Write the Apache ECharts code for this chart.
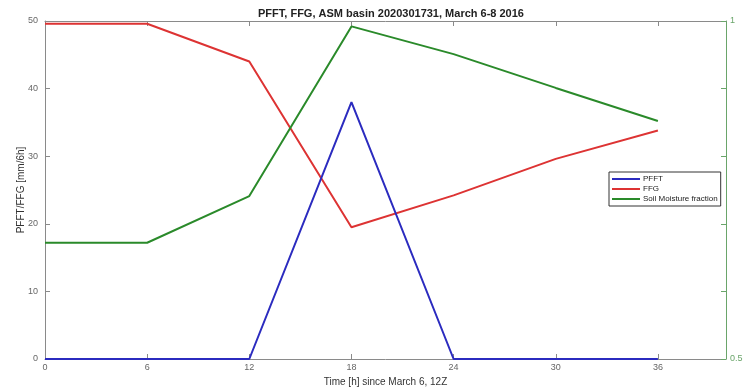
<!DOCTYPE html>
<html>
<head>
<meta charset="utf-8">
<script src="https://cdn.jsdelivr.net/npm/echarts@6/dist/echarts.min.js"></script>
<style>
  html, body { margin: 0; padding: 0; background: #fff; }
  #chart { width: 745px; height: 388px; }
</style>
</head>
<body>
<div id="chart"></div>
<script>
// hours since March 6, 12Z
const hours = [0, 6, 12, 18, 24, 30, 36];
const pfft = [0, 0, 0, 38, 0, 0, 0];
const ffg = [49.6, 49.6, 44, 19.5, 24.2, 29.6, 33.8];
const soilMoisture = [0.672, 0.672, 0.741, 0.992, 0.951, 0.901, 0.852];
const xTicks = [0, 6, 12, 18, 24, 30, 36];
const rightTicks = [0.5, 0.6, 0.7, 0.8, 0.9, 1];
const rightLabels = [0.5, 1];

function pairs(ys) {
    return hours.map((h, i) => [h, ys[i]]);
}

const chart = echarts.init(document.getElementById('chart'));
const grey = '#8a8a8a';
const green = '#2a8a2a';
const lightGreen = '#6aa56a';

const option = {
    animation: false,
    title: {
        text: 'PFFT, FFG, ASM basin 2020301731, March 6-8 2016',
        left: 386,
        textAlign: 'center',
        top: 3,
        textStyle: { fontSize: 11, fontWeight: 'bold', color: '#222', fontFamily: 'Liberation Sans' }
    },
    legend: {
        orient: 'vertical',
        left: 609,
        top: 172,
        icon: 'rect',
        itemWidth: 28,
        itemHeight: 2,
        itemGap: 2,
        padding: [3, 3, 3, 3],
        borderColor: '#333',
        borderWidth: 1,
        backgroundColor: '#fff',
        textStyle: { fontSize: 8, color: '#222', fontFamily: 'Liberation Sans', padding: [0, 0, 0, -2] },
        data: ['PFFT', 'FFG', 'Soil Moisture fraction']
    },
    grid: { left: 45, right: 19, top: 21, bottom: 29, outerBoundsMode: 'none', containLabel: false },
    xAxis: [{
        type: 'value',
        min: 0,
        max: 40,
        interval: 6,
        name: 'Time [h] since March 6, 12Z',
        nameLocation: 'middle',
        nameGap: 18,
        nameTextStyle: { fontSize: 10, color: '#333', fontFamily: 'Liberation Sans' },
        axisLine: { onZero: false, lineStyle: { color: grey } },
        axisTick: { inside: true, length: 5, lineStyle: { color: grey }, customValues: xTicks },
        axisLabel: { fontSize: 9, color: '#666', margin: 4, customValues: xTicks, fontFamily: 'Liberation Sans' },
        splitLine: { show: false }
    }, {
        type: 'value',
        position: 'top',
        min: 0,
        max: 40,
        interval: 6,
        axisLine: { onZero: false, lineStyle: { color: grey } },
        axisTick: { inside: true, length: 5, lineStyle: { color: grey }, customValues: xTicks },
        axisLabel: { show: false },
        splitLine: { show: false }
    }],
    yAxis: [{
        type: 'value',
        min: 0,
        max: 50,
        interval: 10,
        name: 'PFFT/FFG [mm/6h]',
        nameLocation: 'middle',
        nameGap: 19,
        nameMoveOverlap: false,
        nameTextStyle: { fontSize: 10, color: '#333', fontFamily: 'Liberation Sans' },
        axisLine: { show: true, onZero: false, lineStyle: { color: grey } },
        axisTick: { show: true, inside: true, length: 5, lineStyle: { color: grey } },
        axisLabel: { fontSize: 9, color: '#666', margin: 7, fontFamily: 'Liberation Sans' },
        splitLine: { show: false }
    }, {
        type: 'value',
        position: 'right',
        min: 0.5,
        max: 1,
        interval: 0.1,
        axisLine: { show: true, onZero: false, lineStyle: { color: lightGreen } },
        axisTick: { show: true, inside: true, length: 5, lineStyle: { color: lightGreen }, customValues: rightTicks },
        axisLabel: {
            fontSize: 9, color: lightGreen, margin: 4, fontFamily: 'Liberation Sans',
            customValues: rightLabels
        },
        splitLine: { show: false }
    }],
    series: [{
        name: 'PFFT',
        type: 'line',
        data: pairs(pfft),
        showSymbol: false,
        color: '#2b2bbf',
        lineStyle: { width: 2 },
        z: 5
    }, {
        name: 'FFG',
        type: 'line',
        data: pairs(ffg),
        showSymbol: false,
        color: '#dd3333',
        lineStyle: { width: 2 }
    }, {
        name: 'Soil Moisture fraction',
        type: 'line',
        yAxisIndex: 1,
        data: pairs(soilMoisture),
        showSymbol: false,
        color: green,
        lineStyle: { width: 2 }
    }]
};
chart.setOption(option);
</script>
</body>
</html>
